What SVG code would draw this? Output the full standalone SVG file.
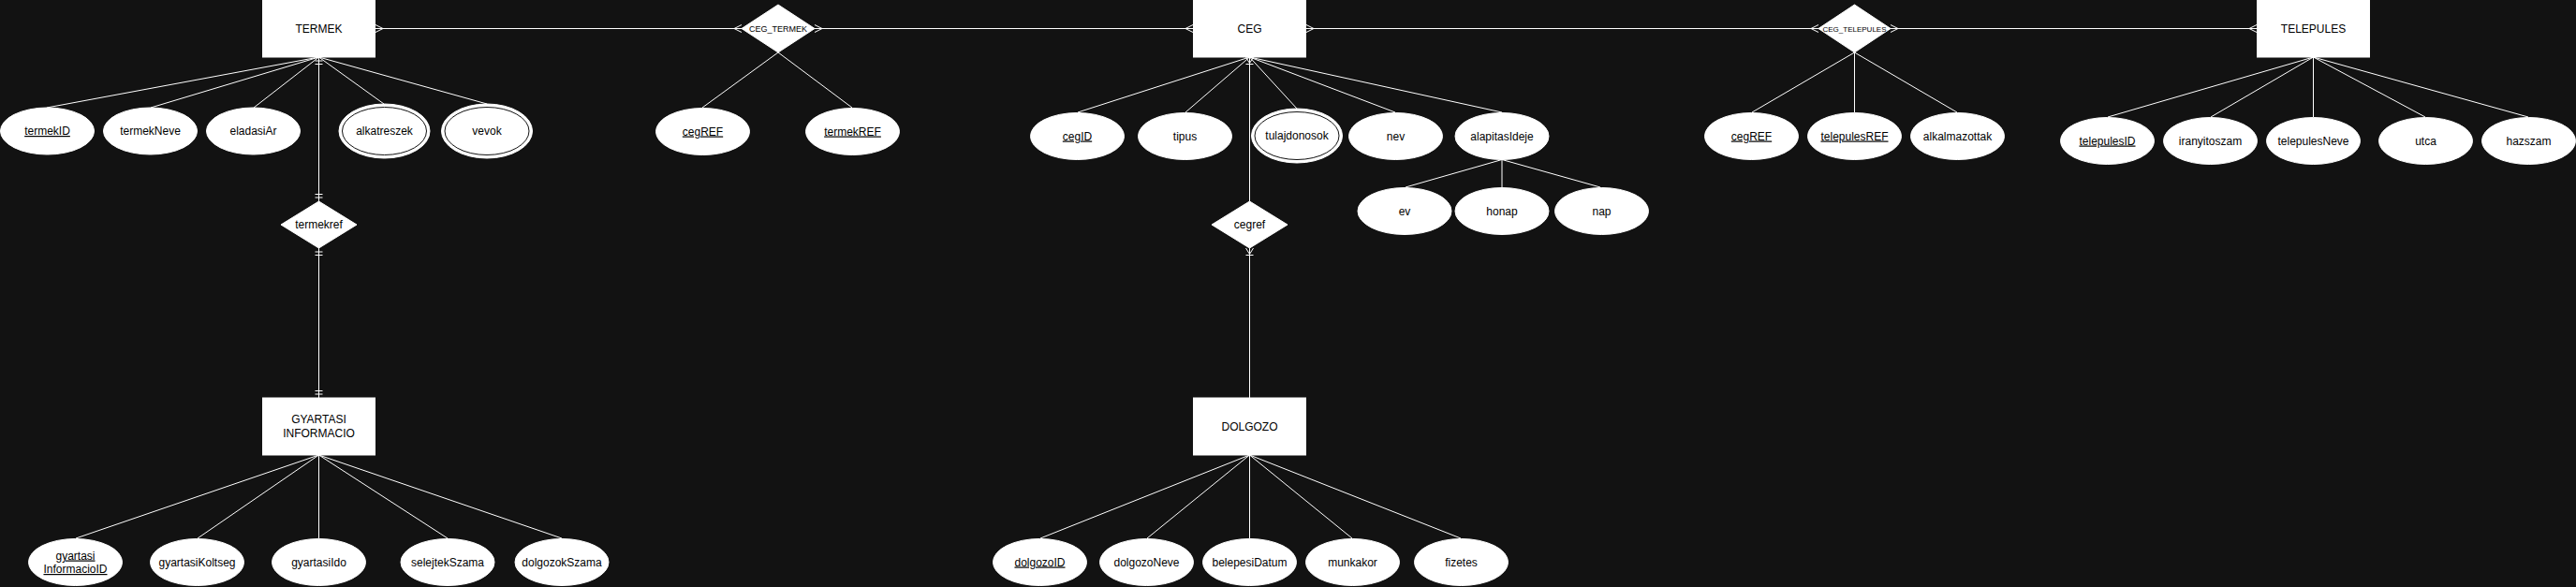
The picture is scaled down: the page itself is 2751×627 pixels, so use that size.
<svg xmlns="http://www.w3.org/2000/svg" width="2751" height="627" viewBox="0 0 2751 627">
<style>
.bg{fill:#121212}
.ent{fill:#ffffff;stroke:#ffffff;stroke-width:1}
.rel{fill:#ffffff;stroke:#ffffff;stroke-width:1}
.att{fill:#ffffff;stroke:#ffffff;stroke-width:1}
.inner{fill:none;stroke:#121212;stroke-width:1}
.conn{fill:none;stroke:#ffffff;stroke-width:1}
text{font-family:"Liberation Sans",Arial,Helvetica,sans-serif;font-size:12px;fill:#000000;text-anchor:middle}
.small{font-size:9px}
.tiny{font-size:8px}
.key{text-decoration:underline}
</style>
<defs>
<marker id="many" markerUnits="userSpaceOnUse" orient="auto-start-reverse" viewBox="-12 -12 24 24" markerWidth="24" markerHeight="24" refX="0" refY="0">
<path d="M-8,0 L0,-4 M-8,0 L0,4" fill="none" stroke="#ffffff" stroke-width="1"/>
</marker>
<marker id="bars" markerUnits="userSpaceOnUse" orient="auto-start-reverse" viewBox="-12 -12 24 24" markerWidth="24" markerHeight="24" refX="0" refY="0">
<path d="M-4,-4 V4 M-7.5,-4 V4" fill="none" stroke="#ffffff" stroke-width="1"/>
</marker>
<marker id="onemany" markerUnits="userSpaceOnUse" orient="auto-start-reverse" viewBox="-12 -12 24 24" markerWidth="24" markerHeight="24" refX="0" refY="0">
<path d="M-6.5,0 L0,-4 M-6.5,0 L0,4 M-7.5,-4 V4" fill="none" stroke="#ffffff" stroke-width="1"/>
</marker>
</defs>
<rect class="bg" x="0" y="0" width="2751" height="627"/>

<g id="connectors">
<!-- relationship connectors -->
<path class="conn" d="M401,30.5 H792" marker-start="url(#many)" marker-end="url(#many)"/>
<path class="conn" d="M870,30.5 H1274" marker-start="url(#many)" marker-end="url(#many)"/>
<path class="conn" d="M1395,30.5 H1942" marker-start="url(#many)" marker-end="url(#many)"/>
<path class="conn" d="M2019,30.5 H2410" marker-start="url(#many)" marker-end="url(#many)"/>
<path class="conn" d="M340.5,61 V215" marker-start="url(#bars)" marker-end="url(#bars)"/>
<path class="conn" d="M340.5,265 V425" marker-start="url(#bars)" marker-end="url(#bars)"/>
<path class="conn" d="M1334.5,61 V215" marker-start="url(#onemany)"/>
<path class="conn" d="M1334.5,265 V425" marker-start="url(#onemany)"/>
<!-- attribute lines TERMEK -->
<path class="conn" d="M340.5,61 L50,115 M340.5,61 L161,115 M340.5,61 L271,115 M340.5,61 L410,111 M340.5,61 L520,111"/>
<!-- CEG_TERMEK -->
<path class="conn" d="M831,56 L750,115 M831,56 L910,115"/>
<!-- CEG -->
<path class="conn" d="M1334.5,61 L1151,120 M1334.5,61 L1266,120 M1334.5,61 L1385,116 M1334.5,61 L1490,120 M1334.5,61 L1604,120"/>
<path class="conn" d="M1604,170.5 L1501,200 M1604,170.5 V200 M1604,170.5 L1709,200"/>
<!-- CEG_TELEPULES -->
<path class="conn" d="M1980.5,56 L1871,120 M1980.5,56 V120 M1980.5,56 L2090,120"/>
<!-- TELEPULES -->
<path class="conn" d="M2470.5,61 L2251,125 M2470.5,61 L2361,125 M2470.5,61 V125 M2470.5,61 L2590,125 M2470.5,61 L2700,125"/>
<!-- GYARTASI INFORMACIO -->
<path class="conn" d="M340.5,486 L81,575 M340.5,486 L211,575 M340.5,486 V575 M340.5,486 L478,575 M340.5,486 L600,575"/>
<!-- DOLGOZO -->
<path class="conn" d="M1334.5,486 L1111,575 M1334.5,486 L1225,575 M1334.5,486 V575 M1334.5,486 L1444,575 M1334.5,486 L1560,575"/>
</g>

<!-- entities -->
<g id="TERMEK"><rect class="ent" x="280.5" y="0" width="120" height="61"/><text x="340.5" y="34.5">TERMEK</text></g>
<g id="CEG"><rect class="ent" x="1274.5" y="0" width="120" height="61"/><text x="1334.5" y="34.5">CEG</text></g>
<g id="TELEPULES"><rect class="ent" x="2410.5" y="0" width="120" height="61"/><text x="2470.5" y="34.5">TELEPULES</text></g>
<g id="GYARTASI_INFORMACIO"><rect class="ent" x="280.5" y="425" width="120" height="61"/><text x="340.5" y="452">GYARTASI</text><text x="340.5" y="466.5">INFORMACIO</text></g>
<g id="DOLGOZO"><rect class="ent" x="1274.5" y="425" width="120" height="61"/><text x="1334.5" y="459.5">DOLGOZO</text></g>

<!-- relationships -->
<g id="CEG_TERMEK"><polygon class="rel" points="792,30.5 831,5 870,30.5 831,56"/><text class="small" x="831" y="33.5">CEG_TERMEK</text></g>
<g id="CEG_TELEPULES"><polygon class="rel" points="1942,30.5 1980.5,5 2019,30.5 1980.5,56"/><text class="tiny" x="1980.5" y="33.5">CEG_TELEPULES</text></g>
<g id="termekref"><polygon class="rel" points="300,240 340.5,215 381,240 340.5,265"/><text x="340.5" y="244">termekref</text></g>
<g id="cegref"><polygon class="rel" points="1294,240 1334.5,215 1375,240 1334.5,265"/><text x="1334.5" y="244">cegref</text></g>

<!-- TERMEK attributes -->
<g id="termekID"><ellipse class="att" cx="50.5" cy="140" rx="50" ry="25"/><text class="key" x="50.5" y="144">termekID</text></g>
<g id="termekNeve"><ellipse class="att" cx="160.5" cy="140" rx="50" ry="25"/><text x="160.5" y="144">termekNeve</text></g>
<g id="eladasiAr"><ellipse class="att" cx="270.5" cy="140" rx="50" ry="25"/><text x="270.5" y="144">eladasiAr</text></g>
<g id="alkatreszek"><ellipse class="att" cx="410.5" cy="140" rx="48.5" ry="29"/><ellipse class="inner" cx="410.5" cy="140" rx="45" ry="25.5"/><text x="410.5" y="144">alkatreszek</text></g>
<g id="vevok"><ellipse class="att" cx="520" cy="140" rx="48.5" ry="29"/><ellipse class="inner" cx="520" cy="140" rx="45" ry="25.5"/><text x="520" y="144">vevok</text></g>

<!-- CEG_TERMEK attributes -->
<g id="cegREF_1"><ellipse class="att" cx="750.5" cy="140.5" rx="50" ry="25"/><text class="key" x="750.5" y="144.5">cegREF</text></g>
<g id="termekREF"><ellipse class="att" cx="910.5" cy="140.5" rx="50" ry="25"/><text class="key" x="910.5" y="144.5">termekREF</text></g>

<!-- CEG attributes -->
<g id="cegID"><ellipse class="att" cx="1150.5" cy="145.5" rx="50" ry="25"/><text class="key" x="1150.5" y="149.5">cegID</text></g>
<g id="tipus"><ellipse class="att" cx="1265.5" cy="145.5" rx="50" ry="25"/><text x="1265.5" y="149.5">tipus</text></g>
<g id="tulajdonosok"><ellipse class="att" cx="1385" cy="145" rx="48.5" ry="29"/><ellipse class="inner" cx="1385" cy="145" rx="45" ry="25.5"/><text x="1385" y="149">tulajdonosok</text></g>
<g id="nev"><ellipse class="att" cx="1490.5" cy="145.5" rx="50" ry="25"/><text x="1490.5" y="149.5">nev</text></g>
<g id="alapitasIdeje"><ellipse class="att" cx="1604" cy="145.5" rx="50" ry="25"/><text x="1604" y="149.5">alapitasIdeje</text></g>
<g id="ev"><ellipse class="att" cx="1500" cy="225.5" rx="50" ry="25"/><text x="1500" y="229.5">ev</text></g>
<g id="honap"><ellipse class="att" cx="1604" cy="225.5" rx="50" ry="25"/><text x="1604" y="229.5">honap</text></g>
<g id="nap"><ellipse class="att" cx="1710.5" cy="225.5" rx="50" ry="25"/><text x="1710.5" y="229.5">nap</text></g>

<!-- CEG_TELEPULES attributes -->
<g id="cegREF_2"><ellipse class="att" cx="1870.5" cy="145.5" rx="50" ry="25"/><text class="key" x="1870.5" y="149.5">cegREF</text></g>
<g id="telepulesREF"><ellipse class="att" cx="1980.5" cy="145.5" rx="50" ry="25"/><text class="key" x="1980.5" y="149.5">telepulesREF</text></g>
<g id="alkalmazottak"><ellipse class="att" cx="2090.5" cy="145.5" rx="50" ry="25"/><text x="2090.5" y="149.5">alkalmazottak</text></g>

<!-- TELEPULES attributes -->
<g id="telepulesID"><ellipse class="att" cx="2250.5" cy="150.5" rx="50" ry="25"/><text class="key" x="2250.5" y="154.5">telepulesID</text></g>
<g id="iranyitoszam"><ellipse class="att" cx="2360.5" cy="150.5" rx="50" ry="25"/><text x="2360.5" y="154.5">iranyitoszam</text></g>
<g id="telepulesNeve"><ellipse class="att" cx="2470.5" cy="150.5" rx="50" ry="25"/><text x="2470.5" y="154.5">telepulesNeve</text></g>
<g id="utca"><ellipse class="att" cx="2590.5" cy="150.5" rx="50" ry="25"/><text x="2590.5" y="154.5">utca</text></g>
<g id="hazszam"><ellipse class="att" cx="2700.5" cy="150.5" rx="50" ry="25"/><text x="2700.5" y="154.5">hazszam</text></g>

<!-- GYARTASI INFORMACIO attributes -->
<g id="gyartasiInformacioID"><ellipse class="att" cx="80.5" cy="600.5" rx="50" ry="25"/><text class="key" x="80.5" y="597.5">gyartasi</text><text class="key" x="80.5" y="612">InformacioID</text></g>
<g id="gyartasiKoltseg"><ellipse class="att" cx="210.5" cy="600.5" rx="50" ry="25"/><text x="210.5" y="604.5">gyartasiKoltseg</text></g>
<g id="gyartasiIdo"><ellipse class="att" cx="340.5" cy="600.5" rx="50" ry="25"/><text x="340.5" y="604.5">gyartasiIdo</text></g>
<g id="selejtekSzama"><ellipse class="att" cx="478" cy="600.5" rx="50" ry="25"/><text x="478" y="604.5">selejtekSzama</text></g>
<g id="dolgozokSzama"><ellipse class="att" cx="600" cy="600.5" rx="50" ry="25"/><text x="600" y="604.5">dolgozokSzama</text></g>

<!-- DOLGOZO attributes -->
<g id="dolgozoID"><ellipse class="att" cx="1110.5" cy="600.5" rx="50" ry="25"/><text class="key" x="1110.5" y="604.5">dolgozoID</text></g>
<g id="dolgozoNeve"><ellipse class="att" cx="1224.5" cy="600.5" rx="50" ry="25"/><text x="1224.5" y="604.5">dolgozoNeve</text></g>
<g id="belepesiDatum"><ellipse class="att" cx="1334.5" cy="600.5" rx="50" ry="25"/><text x="1334.5" y="604.5">belepesiDatum</text></g>
<g id="munkakor"><ellipse class="att" cx="1444.5" cy="600.5" rx="50" ry="25"/><text x="1444.5" y="604.5">munkakor</text></g>
<g id="fizetes"><ellipse class="att" cx="1560.5" cy="600.5" rx="50" ry="25"/><text x="1560.5" y="604.5">fizetes</text></g>
</svg>
